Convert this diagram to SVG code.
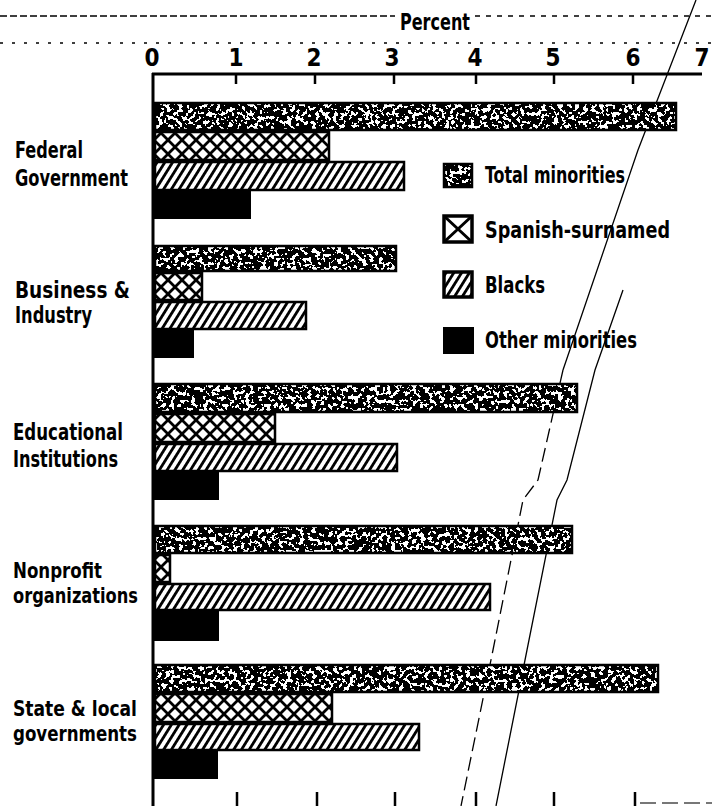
<svg xmlns="http://www.w3.org/2000/svg" width="712" height="806" viewBox="0 0 712 806">
<defs>
<style>
.t{font-family:"DejaVu Sans Condensed","Liberation Sans Narrow","Liberation Sans",sans-serif;font-weight:bold;font-size:23px;fill:#000}
.s{font-size:21px}
.n{font-size:24px;text-anchor:middle}
.bar{stroke:#000;stroke-width:2.5}
.tot{fill:#000;filter:url(#speck)}
.frame{fill:none;stroke:#000;stroke-width:2.5}
.blk{fill:#000;stroke:#000;stroke-width:2}
.axis{stroke:#000;stroke-width:3;fill:none}
.tick{stroke:#000;stroke-width:2.5}
.scan{stroke:#000;stroke-width:1.3;fill:none}
</style>
<pattern id="hatch" patternUnits="userSpaceOnUse" width="6.6" height="10" patternTransform="rotate(32)">
<rect width="6.6" height="10" fill="#fff"/>
<rect width="2.8" height="10" fill="#000"/>
</pattern>
<pattern id="cross" patternUnits="userSpaceOnUse" width="14" height="14">
<rect width="14" height="14" fill="#fff"/>
<path d="M-1,-1 L15,15 M15,-1 L-1,15" stroke="#000" stroke-width="2.8"/>
</pattern>
<filter id="speck" x="0" y="0" width="1" height="1" color-interpolation-filters="sRGB">
<feTurbulence type="fractalNoise" baseFrequency="0.24" numOctaves="2" seed="7" result="n"/>
<feColorMatrix in="n" type="matrix" values="1 0 0 0 0  1 0 0 0 0  1 0 0 0 0  0 0 0 0 1" result="g"/>
<feComponentTransfer in="g">
<feFuncR type="discrete" tableValues="0 0 0 0 0 1 1 1 1"/>
<feFuncG type="discrete" tableValues="0 0 0 0 0 1 1 1 1"/>
<feFuncB type="discrete" tableValues="0 0 0 0 0 1 1 1 1"/>
</feComponentTransfer>
</filter>
</defs>
<rect width="712" height="806" fill="#fff"/>

<g id="scan-marks">
<line x1="0" y1="16" x2="395" y2="16" class="scan" stroke-dasharray="7 3" stroke-width="1.4"/>
<line x1="475" y1="16" x2="712" y2="16" class="scan" stroke-dasharray="5 6" stroke-width="1"/>
<line x1="0" y1="43" x2="712" y2="43" class="scan" stroke-dasharray="3 9" stroke-width="1"/>
<polyline points="696,0 638,150 563,370" class="scan"/>
<polyline points="563,370 538,480 523,500 493,650 461,806" class="scan" stroke-dasharray="14 6"/>
<polyline points="623,290 595,370 567,480 557,500 527,650 496,806" class="scan" stroke-width="1.6"/>
<line x1="640" y1="803" x2="712" y2="803" stroke="#777" stroke-width="2" stroke-dasharray="16 6"/>
</g>

<g id="axis">
<text class="t" x="435" y="30" text-anchor="middle" textLength="70" lengthAdjust="spacingAndGlyphs">Percent</text>
<text class="t n" x="152" y="66">0</text>
<text class="t n" x="236" y="66">1</text>
<text class="t n" x="314" y="66">2</text>
<text class="t n" x="392" y="66">3</text>
<text class="t n" x="475" y="66">4</text>
<text class="t n" x="553" y="66">5</text>
<text class="t n" x="633" y="66">6</text>
<text class="t n" x="702" y="66">7</text>
<line x1="152" y1="74" x2="702" y2="74" class="axis" stroke-width="2.5"/>
<line x1="153" y1="73" x2="153" y2="806" class="axis"/>
<path class="tick" d="M236,74V84 M315,74V84 M394,74V84 M476,74V84 M554,74V84 M633,74V84 M237,792V806 M317,792V806 M395,792V806 M476,792V806 M554,792V806 M635,792V806"/>
</g>

<g id="federal-government">
<text class="t" x="15" y="158" textLength="68" lengthAdjust="spacingAndGlyphs">Federal</text>
<text class="t" x="15" y="186" textLength="113" lengthAdjust="spacingAndGlyphs">Government</text>
<rect x="155" y="103" width="521" height="27" class="tot"/><rect x="155" y="103" width="521" height="27" class="frame"/>
<rect x="155" y="132" width="174" height="28" fill="url(#cross)" class="bar"/>
<rect x="155" y="162" width="249" height="28" fill="url(#hatch)" class="bar"/>
<rect x="155" y="192" width="95" height="26" class="blk"/>
</g>

<g id="business-industry">
<text class="t" x="15" y="298" textLength="115" lengthAdjust="spacingAndGlyphs">Business &amp;</text>
<text class="t" x="15" y="323" textLength="77" lengthAdjust="spacingAndGlyphs">Industry</text>
<rect x="155" y="246" width="241" height="25" class="tot"/><rect x="155" y="246" width="241" height="25" class="frame"/>
<rect x="155" y="273" width="47" height="27" fill="url(#cross)" class="bar"/>
<rect x="155" y="302" width="151" height="27" fill="url(#hatch)" class="bar"/>
<rect x="155" y="330" width="38" height="27" class="blk"/>
</g>

<g id="educational-institutions">
<text class="t" x="13" y="440" textLength="110" lengthAdjust="spacingAndGlyphs">Educational</text>
<text class="t" x="13" y="467" textLength="105" lengthAdjust="spacingAndGlyphs">Institutions</text>
<rect x="155" y="384" width="422" height="28" class="tot"/><rect x="155" y="384" width="422" height="28" class="frame"/>
<rect x="155" y="414" width="120" height="28" fill="url(#cross)" class="bar"/>
<rect x="155" y="444" width="242" height="27" fill="url(#hatch)" class="bar"/>
<rect x="155" y="472" width="63" height="27" class="blk"/>
</g>

<g id="nonprofit-organizations">
<text class="t s" x="13" y="578" textLength="89" lengthAdjust="spacingAndGlyphs">Nonprofit</text>
<text class="t s" x="13" y="603" textLength="125" lengthAdjust="spacingAndGlyphs">organizations</text>
<rect x="155" y="526" width="417" height="27" class="tot"/><rect x="155" y="526" width="417" height="27" class="frame"/>
<rect x="155" y="555" width="15" height="27" fill="url(#cross)" class="bar"/>
<rect x="155" y="584" width="335" height="26" fill="url(#hatch)" class="bar"/>
<rect x="155" y="612" width="63" height="28" class="blk"/>
</g>

<g id="state-local-governments">
<text class="t s" x="13" y="716" textLength="124" lengthAdjust="spacingAndGlyphs">State &amp; local</text>
<text class="t s" x="13" y="741" textLength="124" lengthAdjust="spacingAndGlyphs">governments</text>
<rect x="155" y="665" width="503" height="27" class="tot"/><rect x="155" y="665" width="503" height="27" class="frame"/>
<rect x="155" y="694" width="177" height="28" fill="url(#cross)" class="bar"/>
<rect x="155" y="724" width="264" height="26" fill="url(#hatch)" class="bar"/>
<rect x="155" y="752" width="62" height="26" class="blk"/>
</g>

<g id="legend">
<rect x="444" y="164" width="28" height="23" class="tot"/><rect x="444" y="164" width="28" height="23" class="frame" stroke-width="3.5"/>
<text class="t" x="485" y="183" textLength="140" lengthAdjust="spacingAndGlyphs">Total minorities</text>
<rect x="444" y="216" width="28" height="26" fill="#fff" stroke="#000" stroke-width="3.5"/>
<path d="M444,216 L472,242 M472,216 L444,242" stroke="#000" stroke-width="3"/>
<text class="t" x="485" y="238" textLength="185" lengthAdjust="spacingAndGlyphs">Spanish-surnamed</text>
<rect x="444" y="272" width="28" height="25" fill="url(#hatch)" stroke="#000" stroke-width="3.5"/>
<text class="t" x="485" y="293" textLength="60" lengthAdjust="spacingAndGlyphs">Blacks</text>
<rect x="444" y="328" width="29" height="25" class="blk"/>
<text class="t" x="485" y="348" textLength="152" lengthAdjust="spacingAndGlyphs">Other minorities</text>
</g>
</svg>
